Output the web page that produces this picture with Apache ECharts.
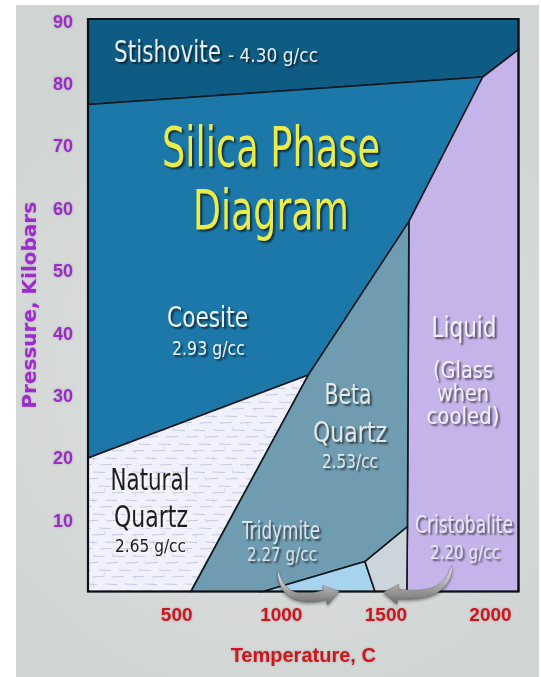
<!DOCTYPE html>
<html><head><meta charset="utf-8">
<script src="https://cdn.jsdelivr.net/npm/echarts@6/dist/echarts.min.js"></script>
<style>html,body{margin:0;padding:0;background:#fff}#c{width:541px;height:677px}</style>
</head><body><div id="c"></div>
<script>
// ---- axis data ----
const temperatureTicks = [500, 1000, 1500, 2000];
const pressureTicks = [10, 20, 30, 40, 50, 60, 70, 80, 90];
const temperatureRange = [76, 2134];
const pressureRange = [-1.2, 90.6];

// ---- phase fields: vertices as [temperature °C, pressure kbar] ----
const stishovite    = [[76, 90.6], [2134, 90.6], [2134, 85.7], [1963, 81.3], [76, 76.9]];
const coesite       = [[76, 76.9], [1963, 81.3], [1610, 58.1], [1129, 33.5], [76, 20.2]];
const liquid        = [[1963, 81.3], [2134, 85.7], [2134, -1.2], [1600, -1.2], [1603, 9.2], [1610, 58.1]];
const naturalQuartz = [[76, 20.2], [1129, 33.5], [568, -1.2], [76, -1.2]];
const betaQuartz    = [[1129, 33.5], [1610, 58.1], [1603, 9.2], [1400, 3.6], [914, -1.2], [568, -1.2]];
const tridymite     = [[914, -1.2], [1400, 3.6], [1448, -1.2]];
const cristobalite  = [[1400, 3.6], [1603, 9.2], [1600, -1.2], [1448, -1.2]];

// texture for the natural quartz field
function makeTexture() {
  const c = document.createElement('canvas');
  c.width = 60; c.height = 42;
  const g = c.getContext('2d');
  g.fillStyle = '#f0f1fa'; g.fillRect(0, 0, 60, 42);
  g.strokeStyle = 'rgba(120,130,190,0.45)'; g.lineWidth = 0.8;
  const rows = [3, 10, 17, 24, 31, 38];
  rows.forEach((y, r) => {
    g.beginPath();
    const off = (r * 13) % 20;
    for (let x = off - 20; x < 60; x += 20) { g.moveTo(x, y); g.lineTo(x + 12, y + (r % 2 ? 0.6 : -0.6)); }
    g.stroke();
  });
  g.strokeStyle = 'rgba(140,150,200,0.3)';
  g.beginPath();
  [[7,2],[25,14],[44,26],[15,30],[52,6],[33,36]].forEach(([x,y]) => { g.moveTo(x, y); g.lineTo(x + 1, y + 5); });
  g.stroke();
  return c;
}

const regions = [
  { name: 'Stishovite', pts: stishovite, fill: '#0e5c84' },
  { name: 'Coesite', pts: coesite, fill: '#1b78a9' },
  { name: 'Liquid', pts: liquid, fill: '#c5b4ea' },
  { name: 'Natural Quartz', pts: naturalQuartz, fill: { image: makeTexture(), repeat: 'repeat' } },
  { name: 'Beta Quartz', pts: betaQuartz, fill: '#6f9cb1' },
  { name: 'Tridymite', pts: tridymite, fill: '#a6d4ee' },
  { name: 'Cristobalite', pts: cristobalite, fill: '#ccd5dc' }
];

const series = regions.map(r => ({
  type: 'custom',
  name: r.name,
  coordinateSystem: 'cartesian2d',
  data: r.pts,
  silent: true,
  renderItem: function (params, api) {
    if (params.dataIndex !== 0) return null;
    const points = r.pts.map(p => api.coord(p));
    return { type: 'polygon', shape: { points }, style: { fill: r.fill, stroke: '#121820', lineWidth: 1.6 } };
  }
}));

// ---- text helpers ----
const mctx = document.createElement('canvas').getContext('2d');
const FF = '"DejaVu Sans", "Open Sans", sans-serif';
function lbl(text, cx, cy, size, width, color, dark) {
  const font = size + 'px ' + FF;
  mctx.font = font;
  const w = mctx.measureText(text).width;
  return {
    type: 'text', x: cx, y: cy, scaleX: width / w, scaleY: 1, z: 100, silent: true,
    style: {
      text, x: 0, y: 0, font, fill: color, align: 'center', verticalAlign: 'middle',
      textAlign: 'center', textVerticalAlign: 'middle',
      textShadowColor: dark ? 'rgba(255,255,255,0.7)' : 'rgba(0,0,0,0.6)', textShadowBlur: 2,
      textShadowOffsetX: 2, textShadowOffsetY: 2
    }
  };
}

const texts = [
  lbl('Stishovite', 167.5, 54.5, 30, 107, '#e6eef3'),
  lbl('- 4.30 g/cc', 273, 57, 19, 90, '#e6eef3'),
  lbl('Silica Phase', 271, 152, 55, 218, '#ecec48'),
  lbl('Diagram', 271, 215, 55, 156, '#ecec48'),
  lbl('Coesite', 207.5, 320, 28, 81, '#eef3f7'),
  lbl('2.93 g/cc', 208.5, 350, 19, 73, '#eef3f7'),
  lbl('Beta', 348, 397, 28, 47, '#e3e8e8'),
  lbl('Quartz', 350, 435, 28, 74, '#e3e8e8'),
  lbl('2.53/cc', 350, 463, 19, 56, '#e3e8e8'),
  lbl('Liquid', 464, 330, 28, 65, '#f3f0fa'),
  lbl('(Glass', 463, 372, 23, 60, '#f3f0fa'),
  lbl('when', 463, 395, 23, 52, '#f3f0fa'),
  lbl('cooled)', 463, 418, 23, 73, '#f3f0fa'),
  lbl('Natural', 150, 482, 31, 79, '#1e1e1e', true),
  lbl('Quartz', 151, 519.5, 30, 74, '#1e1e1e', true),
  lbl('2.65 g/cc', 150.5, 547, 18, 71, '#1e1e1e', true),
  lbl('Tridymite', 281, 532, 25, 78, '#dbe3ea'),
  lbl('2.27 g/cc', 282, 556, 20, 70, '#dbe3ea'),
  lbl('Cristobalite', 464, 526, 25, 98, '#ebe6f6'),
  lbl('2.20 g/cc', 465, 554, 20, 70, '#ebe6f6')
];

// decorative curved pointer arrows (pixel-space ornaments)
function swoosh(p0, c, p1, w, head) {
  const N = 18, L = [], R = [];
  let u = [1, 0], n = [0, 1];
  for (let i = 0; i <= N; i++) {
    const t = i / N, a = (1 - t) * (1 - t), b = 2 * (1 - t) * t, d = t * t;
    const x = a * p0[0] + b * c[0] + d * p1[0], y = a * p0[1] + b * c[1] + d * p1[1];
    let dx = 2 * (1 - t) * (c[0] - p0[0]) + 2 * t * (p1[0] - c[0]);
    let dy = 2 * (1 - t) * (c[1] - p0[1]) + 2 * t * (p1[1] - c[1]);
    const len = Math.hypot(dx, dy) || 1; dx /= len; dy /= len;
    u = [dx, dy]; n = [-dy, dx];
    const h = w * 0.5 * Math.pow(t, 0.6);
    L.push([x + n[0] * h, y + n[1] * h]); R.push([x - n[0] * h, y - n[1] * h]);
  }
  const hw = w * 1.0;
  const pts = L.concat([[p1[0] + n[0] * hw, p1[1] + n[1] * hw], [p1[0] + u[0] * head, p1[1] + u[1] * head], [p1[0] - n[0] * hw, p1[1] - n[1] * hw]], R.reverse());
  return pts;
}
const arrowFill = { type: 'linear', x: 0, y: 0, x2: 0, y2: 1,
  colorStops: [{ offset: 0, color: '#f0f0f0' }, { offset: 0.5, color: '#b2b2b2' }, { offset: 1, color: '#6a6a6a' }] };
const arrows = [
  { type: 'polygon', z: 110, silent: true,
    shape: { points: swoosh([278, 571], [283, 606], [325, 595], 10, 15) },
    style: { fill: arrowFill, stroke: 'rgba(80,80,80,0.45)', lineWidth: 0.6, shadowColor: 'rgba(0,0,0,0.35)', shadowBlur: 3, shadowOffsetY: 2 } },
  { type: 'polygon', z: 110, silent: true,
    shape: { points: swoosh([452, 565], [448, 599], [398, 594], 10, 15) },
    style: { fill: arrowFill, stroke: 'rgba(80,80,80,0.45)', lineWidth: 0.6, shadowColor: 'rgba(0,0,0,0.35)', shadowBlur: 3, shadowOffsetY: 2 } }
];

const chart = echarts.init(document.getElementById('c'), null, { renderer: 'canvas' });
const option = {
  animation: false,
  backgroundColor: '#ffffff',
  grid: { left: 88, right: 22.5, top: 19, bottom: 85.5 },
  xAxis: {
    type: 'value', min: temperatureRange[0], max: temperatureRange[1],
    name: 'Temperature, C', nameLocation: 'middle', nameGap: 55,
    nameTextStyle: { color: '#d0141a', fontFamily: '"Liberation Sans", Arial, sans-serif', fontWeight: 'bold', fontSize: 20,
      textShadowColor: 'rgba(120,120,120,0.5)', textShadowBlur: 3 },
    axisLine: { show: false }, axisTick: { show: false }, splitLine: { show: false },
    axisLabel: { customValues: temperatureTicks, margin: 15, color: '#d0141a', fontFamily: '"Liberation Sans", Arial, sans-serif',
      fontWeight: 'bold', fontSize: 19, formatter: v => String(v),
      textShadowColor: 'rgba(130,130,130,0.55)', textShadowBlur: 3 }
  },
  yAxis: {
    type: 'value', min: pressureRange[0], max: pressureRange[1],
    name: 'Pressure, Kilobars', nameLocation: 'middle', nameGap: 47, nameRotate: 90,
    nameTextStyle: { color: '#a02ad2', fontFamily: '"DejaVu Sans", sans-serif', fontWeight: 'bold', fontSize: 20,
      textShadowColor: 'rgba(150,150,150,0.5)', textShadowBlur: 3 },
    axisLine: { show: false }, axisTick: { show: false }, splitLine: { show: false },
    axisLabel: { customValues: pressureTicks, margin: 15, color: '#9c2ac8', fontFamily: '"Liberation Sans", Arial, sans-serif',
      fontWeight: 'bold', fontSize: 18, formatter: v => String(v),
      textShadowColor: 'rgba(130,130,130,0.55)', textShadowBlur: 3 }
  },
  series: series
};
chart.setOption(option);

const tl = chart.convertToPixel({ gridIndex: 0 }, [temperatureRange[0], pressureRange[1]]);
const br = chart.convertToPixel({ gridIndex: 0 }, [temperatureRange[1], pressureRange[0]]);
chart.setOption({
  graphic: [
    { type: 'rect', z: -10, silent: true, shape: { x: 16, y: 5, width: 523, height: 672 },
      style: { fill: { type: 'radial', x: 0.5, y: 0.55, r: 0.7,
        colorStops: [{ offset: 0, color: '#dfe2e1' }, { offset: 1, color: '#d0d4d3' }] } } },
    { type: 'rect', z: 90, silent: true,
      shape: { x: tl[0], y: tl[1], width: br[0] - tl[0], height: br[1] - tl[1] },
      style: { fill: 'none', stroke: '#0c0f14', lineWidth: 2.2 } }
  ].concat(texts, arrows)
});
</script></body></html>
